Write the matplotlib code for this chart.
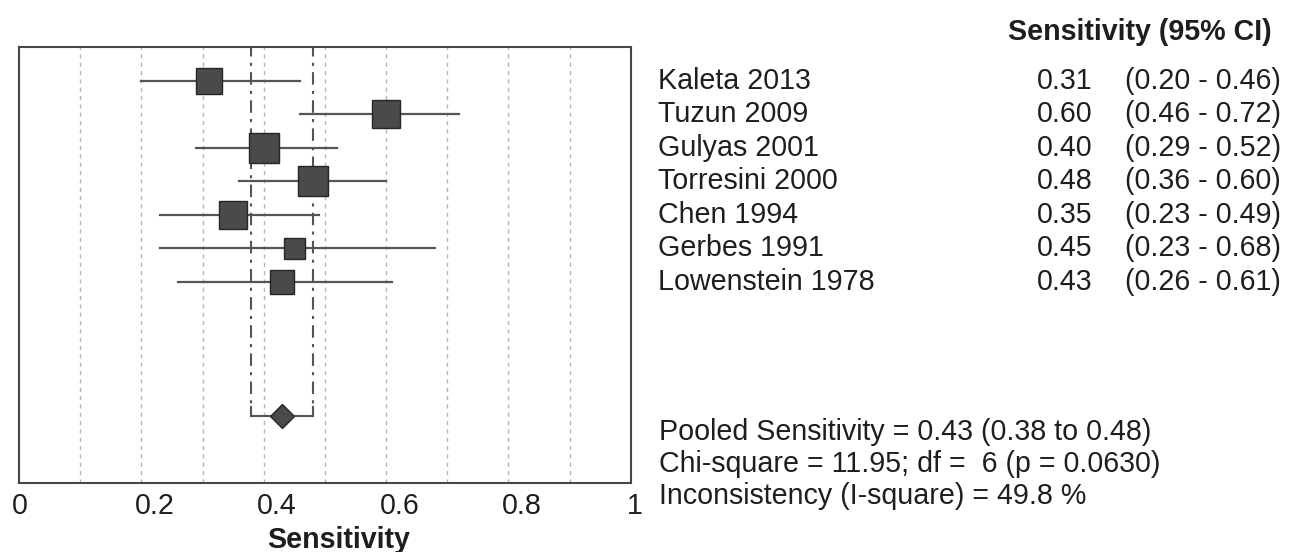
import numpy as np
import matplotlib
matplotlib.use("Agg")
import matplotlib.pyplot as plt
import matplotlib.transforms as mtransforms

plt.rcParams['font.family'] = ['Liberation Sans', 'DejaVu Sans']

# data
studies = ['Kaleta 2013', 'Tuzun 2009', 'Gulyas 2001', 'Torresini 2000',
           'Chen 1994', 'Gerbes 1991', 'Lowenstein 1978']
sens = [0.31, 0.60, 0.40, 0.48, 0.35, 0.45, 0.43]
ci_low = [0.20, 0.46, 0.29, 0.36, 0.23, 0.23, 0.26]
ci_high = [0.46, 0.72, 0.52, 0.60, 0.49, 0.68, 0.61]
weights = [13.8, 14.9, 18.4, 17.2, 14.9, 9.0, 11.8]
pooled = 0.43
pooled_low = 0.38
pooled_high = 0.48
stats_lines = ['Pooled Sensitivity = 0.43 (0.38 to 0.48)',
               'Chi-square = 11.95; df =  6 (p = 0.0630)',
               'Inconsistency (I-square) = 49.8 %']
xticks = [0, 0.2, 0.4, 0.6, 0.8, 1]
xtick_labels = ['0', '0.2', '0.4', '0.6', '0.8', '1']

W, H = 1295, 552
FS = 20.6
dark = '#4a4a4a'
line_c = '#555555'
txt_c = '#1e1e1e'

fig = plt.figure(figsize=(W / 100, H / 100), dpi=100)
ax = fig.add_axes([19 / W, 1 - 482.7 / H, 611.7 / W, 435.7 / H])

rows = np.arange(len(studies))
pooled_row = 10

# light grid
for g in np.arange(0.1, 0.95, 0.1):
    ax.axvline(g, color='#b5b5b5', lw=1.0, ls=(0, (3, 3)), zorder=0)

# pooled CI dash-dot lines and bracket
for v in (pooled_low, pooled_high):
    ax.plot([v, v], [-1.1, pooled_row], color=line_c, lw=1.5,
            ls=(0, (6, 3, 1.5, 3)), zorder=1)
    ax.plot([v, v], [pooled_row - 0.25, pooled_row], color=line_c, lw=1.5, zorder=2)
ax.plot([pooled_low, pooled_high], [pooled_row, pooled_row], color=line_c, lw=1.5, zorder=2)

# study CIs and squares
for r, s, lo, hi, w in zip(rows, sens, ci_low, ci_high, weights):
    ax.plot([lo, hi], [r, r], color=line_c, lw=1.6, zorder=3)
    side_px = 7.0 * np.sqrt(w)
    ax.plot(s, r, marker='s', ms=side_px * 0.72, mfc=dark, mec='#262626',
            mew=1.0, zorder=4)

ax.plot(pooled, pooled_row, marker='D', ms=17.3 * 0.72, mfc=dark, mec='#262626',
        mew=1.0, zorder=4)

ax.set_xlim(0, 1)
ax.set_ylim(12, -1)
ax.set_yticks([])
ax.set_xticks(xticks)
ax.set_xticklabels(xtick_labels, fontsize=FS, color=txt_c)
ax.tick_params(axis='x', length=0, pad=7)
offsets = [1, 13.5, 13.5, 13.5, 13.5, 4]
for lab, dx in zip(ax.get_xticklabels(), offsets):
    lab.set_transform(lab.get_transform() +
                      mtransforms.ScaledTranslation(dx / 100, 0, fig.dpi_scale_trans))
for sp in ax.spines.values():
    sp.set_color('#474747')
    sp.set_linewidth(1.5)

fig.text(339 / W, 1 - 548 / H, 'Sensitivity', fontsize=FS, fontweight='bold',
         ha='center', va='baseline', color=txt_c)

# right-hand table
trans = mtransforms.blended_transform_factory(fig.transFigure, ax.transData)
fig.text(1140 / W, 1 - 40 / H, 'Sensitivity (95% CI)', fontsize=FS,
         fontweight='bold', ha='center', va='baseline', color=txt_c)
for r, name, s, lo, hi in zip(rows, studies, sens, ci_low, ci_high):
    y = r + 0.25
    ax.text(658 / W, y, name, transform=trans, fontsize=FS, ha='left',
            va='baseline', color=txt_c)
    ax.text(1093 / W, y, f'{s:.2f}', transform=trans, fontsize=FS, ha='right',
            va='baseline', color=txt_c)
    ax.text(1125 / W, y, f'({lo:.2f} - {hi:.2f})', transform=trans, fontsize=FS,
            ha='left', va='baseline', color=txt_c)

for i, line in enumerate(stats_lines):
    fig.text(659 / W, 1 - (440.5 + 31.7 * i) / H, line, fontsize=FS,
             ha='left', va='baseline', color=txt_c)

fig.savefig('out.png', dpi=100, facecolor='white')
